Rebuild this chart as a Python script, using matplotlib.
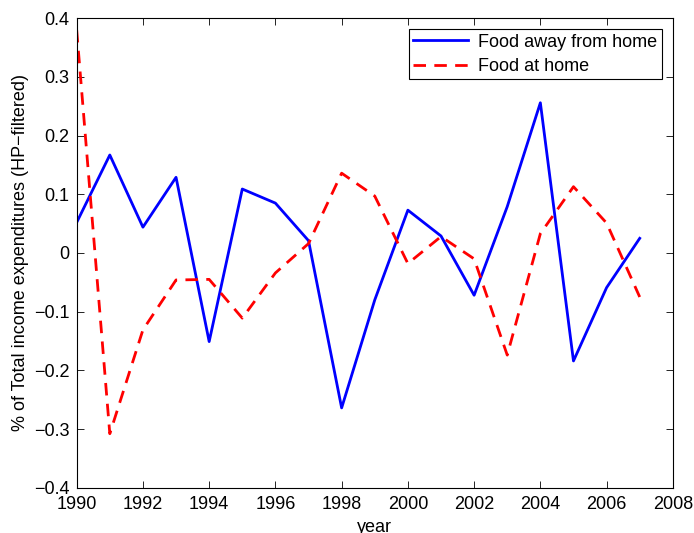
import numpy as np
import matplotlib.pyplot as plt

plt.rcParams['font.family'] = ['Liberation Sans', 'DejaVu Sans']

# yearly values
years = np.arange(1990, 2008)
food_away = [0.052, 0.167, 0.044, 0.129, -0.151, 0.109, 0.085, 0.021, -0.264,
             -0.080, 0.073, 0.029, -0.072, 0.079, 0.256, -0.184, -0.059, 0.025]
food_home = [0.380, -0.308, -0.131, -0.046, -0.045, -0.111, -0.034, 0.016, 0.136,
             0.097, -0.018, 0.028, -0.010, -0.174, 0.033, 0.113, 0.051, -0.075]

fig = plt.figure(figsize=(6.94, 5.33), dpi=100)
ax = fig.add_axes([0.1105, 0.085, 0.859, 0.8807])

ax.plot(years, food_away, color='#0000ff', lw=2.0, label='Food away from home')
ax.plot(years, food_home, color='#ff0000', lw=2.0, ls=(0, (4.5, 3)), label='Food at home')

ax.set_xlim(1990, 2008)
ax.set_ylim(-0.4, 0.4)
ax.set_xticks(np.arange(1990, 2009, 2))
ax.set_yticks(np.arange(-0.4, 0.41, 0.1))
ax.set_yticklabels(['−0.4', '−0.3', '−0.2', '−0.1', '0', '0.1', '0.2', '0.3', '0.4'])
ax.tick_params(direction='in', top=True, right=True, labelsize=13, length=5, width=0.6)
ax.tick_params(axis='x', pad=6)
ax.tick_params(axis='y', pad=5)
for s in ax.spines.values():
    s.set_linewidth(0.8)

ax.set_xlabel('year', fontsize=13, labelpad=4)
ax.set_ylabel('% of Total income expenditures (HP−filtered)', fontsize=13, labelpad=4)

leg = ax.legend(loc='upper right', fontsize=13, fancybox=False, framealpha=1,
                edgecolor='black', borderaxespad=0.6, handlelength=3.0,
                borderpad=0.25, labelspacing=0.4, handletextpad=0.6)
leg.get_frame().set_linewidth(0.8)

fig.savefig('out.png', dpi=100)
